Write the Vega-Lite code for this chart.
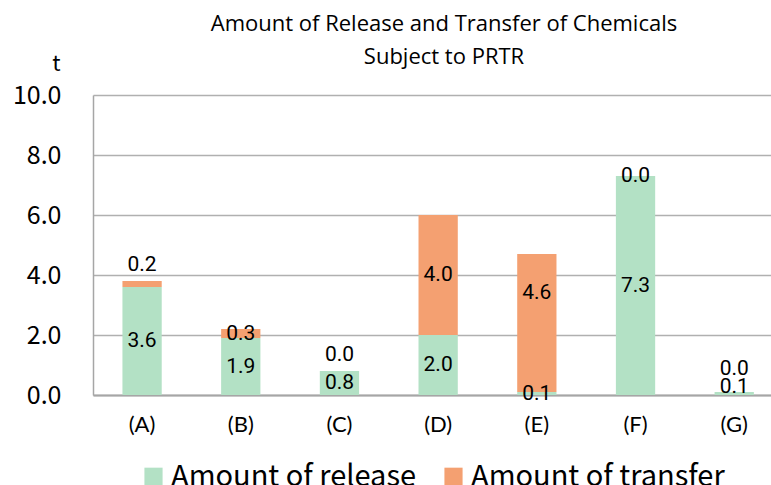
{
  "$schema": "https://vega.github.io/schema/vega-lite/v6.json",
  "width": 678,
  "height": 300,
  "autosize": {"type": "none"},
  "padding": {"left": 93, "top": 95, "right": 0, "bottom": 90},
  "background": "white",
  "config": {"view": {"stroke": null}},
  "title": {
    "text": ["Amount of Release and Transfer of Chemicals", "Subject to PRTR"],
    "font": "Open Sans",
    "fontSize": 22,
    "fontWeight": "normal",
    "color": "#000000",
    "anchor": "middle",
    "dx": 12,
    "dy": 47,
    "offset": 30,
    "lineHeight": 33
  },
  "data": {
    "values": [
      {"cat": "(A)", "type": "Amount of release", "value": 3.6},
      {"cat": "(B)", "type": "Amount of release", "value": 1.9},
      {"cat": "(C)", "type": "Amount of release", "value": 0.8},
      {"cat": "(D)", "type": "Amount of release", "value": 2.0},
      {"cat": "(E)", "type": "Amount of release", "value": 0.1},
      {"cat": "(F)", "type": "Amount of release", "value": 7.3},
      {"cat": "(G)", "type": "Amount of release", "value": 0.1},
      {"cat": "(A)", "type": "Amount of transfer", "value": 0.2},
      {"cat": "(B)", "type": "Amount of transfer", "value": 0.3},
      {"cat": "(C)", "type": "Amount of transfer", "value": 0.0},
      {"cat": "(D)", "type": "Amount of transfer", "value": 4.0},
      {"cat": "(E)", "type": "Amount of transfer", "value": 4.6},
      {"cat": "(F)", "type": "Amount of transfer", "value": 0.0},
      {"cat": "(G)", "type": "Amount of transfer", "value": 0.0}
    ]
  },
  "transform": [
    {"stack": "value", "groupby": ["cat"], "sort": [{"field": "type", "order": "ascending"}], "as": ["v0", "v1"]},
    {"calculate": "(datum.v0 + datum.v1) / 2", "as": "mid"}
  ],
  "encoding": {
    "x": {
      "field": "cat",
      "type": "nominal",
      "sort": null,
      "scale": {"paddingInner": 0.602, "paddingOuter": 0.236, "align": 0.632},
      "axis": {
        "title": null,
        "labelAngle": 0,
        "labelFont": "Lato",
        "labelFontSize": 22,
        "labelColor": "#000000",
        "labelPadding": 19,
        "ticks": false,
        "domainColor": "#a6a6a6",
        "domainWidth": 2
      }
    }
  },
  "layer": [
    {
      "mark": {"type": "bar"},
      "encoding": {
        "y": {
          "field": "v1",
          "type": "quantitative",
          "scale": {"domain": [0, 10]},
          "axis": {
            "title": "t",
            "titleAngle": 0,
            "titleX": -33,
            "titleY": -32,
            "titleAlign": "right",
            "titleBaseline": "middle",
            "titleFont": "Noto Sans CJK JP",
            "titleFontSize": 22,
            "titleFontWeight": "normal",
            "titleColor": "#000000",
            "values": [0, 2, 4, 6, 8, 10],
            "format": ".1f",
            "labelFont": "Noto Sans CJK JP",
            "labelFontSize": 25,
            "labelColor": "#000000",
            "labelPadding": 32,
            "ticks": false,
            "domainColor": "#a6a6a6",
            "domainWidth": 1.5,
            "gridColor": "#b0b0b0",
            "gridWidth": 1.5
          }
        },
        "y2": {"field": "v0"},
        "color": {
          "field": "type",
          "type": "nominal",
          "scale": {"domain": ["Amount of release", "Amount of transfer"], "range": ["#b3e1c5", "#f4a071"]},
          "legend": {
            "title": null,
            "orient": "none",
            "legendX": 46,
            "legendY": 367,
            "direction": "horizontal",
            "symbolType": "square",
            "symbolSize": 330,
            "symbolStrokeWidth": 0,
            "labelFont": "Noto Sans CJK JP",
            "labelFontSize": 29,
            "labelLimit": 0,
            "labelColor": "#000000",
            "labelOffset": 3,
            "columnPadding": 22
          }
        }
      }
    },
    {
      "transform": [{"filter": "!((datum.cat == '(A)' || datum.cat == '(C)' || datum.cat == '(E)') && datum.type == 'Amount of transfer') && datum.cat != '(G)'"}],
      "mark": {"type": "text", "font": "Roboto", "fontSize": 21, "color": "#000000", "baseline": "middle"},
      "encoding": {"y": {"field": "mid", "type": "quantitative"}, "text": {"field": "value", "type": "quantitative", "format": ".1f"}}
    },
    {
      "transform": [{"filter": "(datum.cat == '(A)' || datum.cat == '(C)') && datum.type == 'Amount of transfer'"}],
      "mark": {"type": "text", "font": "Roboto", "fontSize": 21, "color": "#000000", "baseline": "middle", "dy": -16},
      "encoding": {"y": {"field": "v1", "type": "quantitative"}, "text": {"field": "value", "type": "quantitative", "format": ".1f"}}
    },
    {
      "transform": [{"filter": "datum.cat == '(E)' && datum.type == 'Amount of transfer'"}],
      "mark": {"type": "text", "font": "Roboto", "fontSize": 21, "color": "#000000", "baseline": "middle", "dy": -30},
      "encoding": {"y": {"field": "mid", "type": "quantitative"}, "text": {"field": "value", "type": "quantitative", "format": ".1f"}}
    },
    {
      "transform": [{"filter": "datum.cat == '(G)' && datum.type == 'Amount of release'"}],
      "mark": {"type": "text", "font": "Roboto", "fontSize": 21, "color": "#000000", "baseline": "middle", "dy": -5},
      "encoding": {"y": {"field": "v1", "type": "quantitative"}, "text": {"field": "value", "type": "quantitative", "format": ".1f"}}
    },
    {
      "transform": [{"filter": "datum.cat == '(G)' && datum.type == 'Amount of transfer'"}],
      "mark": {"type": "text", "font": "Roboto", "fontSize": 21, "color": "#000000", "baseline": "middle", "dy": -23},
      "encoding": {"y": {"field": "v1", "type": "quantitative"}, "text": {"field": "value", "type": "quantitative", "format": ".1f"}}
    }
  ]
}
